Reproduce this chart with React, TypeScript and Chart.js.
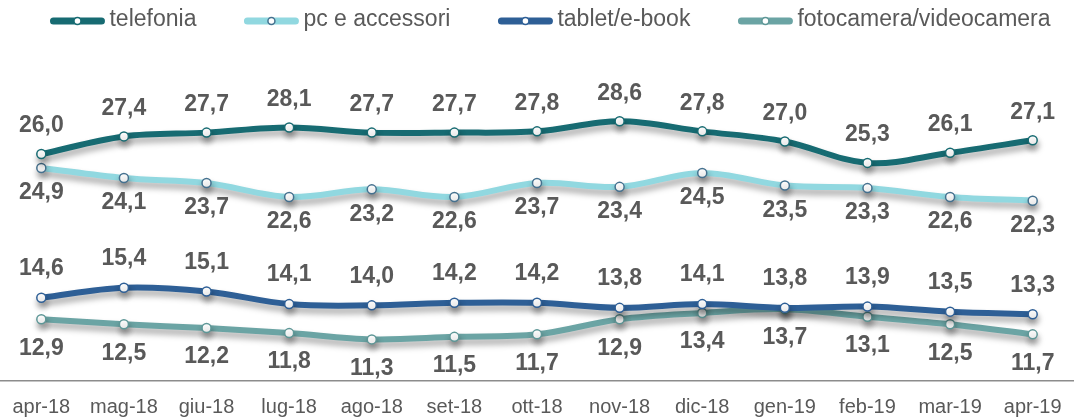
import React, { useEffect, useRef } from "react";
import { Chart, registerables } from "chart.js";

Chart.register(...registerables);

const categories = [
  "apr-18", "mag-18", "giu-18", "lug-18", "ago-18", "set-18", "ott-18",
  "nov-18", "dic-18", "gen-19", "feb-19", "mar-19", "apr-19",
];

const seriesNames = ["telefonia", "pc e accessori", "tablet/e-book", "fotocamera/videocamera"];

const telefonia = [26.0, 27.4, 27.7, 28.1, 27.7, 27.7, 27.8, 28.6, 27.8, 27.0, 25.3, 26.1, 27.1];
const pcAccessori = [24.9, 24.1, 23.7, 22.6, 23.2, 22.6, 23.7, 23.4, 24.5, 23.5, 23.3, 22.6, 22.3];
const tabletEbook = [14.6, 15.4, 15.1, 14.1, 14.0, 14.2, 14.2, 13.8, 14.1, 13.8, 13.9, 13.5, 13.3];
const fotocamera = [12.9, 12.5, 12.2, 11.8, 11.3, 11.5, 11.7, 12.9, 13.4, 13.7, 13.1, 12.5, 11.7];

const lineColors = ["#176B72", "#91D8E0", "#2E5F96", "#6BA4A4"];
const markerBorders = ["#176B72", "#45718F", "#2E5F96", "#5E9797"];
const labelOffsets = [-28, 25, -29, 29];

const LABEL_COLOR = "#595959";
const FONT = "'Liberation Sans', Arial, sans-serif";

const shadowPlugin = {
  id: "lineShadow",
  beforeDatasetDraw(chart: any) {
    const ctx = chart.ctx;
    ctx.save();
    ctx.shadowColor = "rgba(0,0,0,0.35)";
    ctx.shadowBlur = 6;
    ctx.shadowOffsetX = 1;
    ctx.shadowOffsetY = 5;
  },
  afterDatasetDraw(chart: any) {
    chart.ctx.restore();
  },
};

const labelsPlugin = {
  id: "valueLabels",
  afterDatasetsDraw(chart: any) {
    const ctx = chart.ctx;
    ctx.save();
    ctx.font = `bold 23px ${FONT}`;
    ctx.fillStyle = LABEL_COLOR;
    ctx.textAlign = "center";
    ctx.textBaseline = "middle";
    chart.data.datasets.forEach((ds: any, i: number) => {
      const meta = chart.getDatasetMeta(i);
      meta.data.forEach((pt: any, j: number) => {
        const v = ds.data[j];
        const txt = v.toFixed(1).replace(".", ",");
        ctx.fillText(txt, pt.x, pt.y + labelOffsets[i]);
      });
    });
    ctx.restore();
  },
};

const legendPlugin = {
  id: "customLegend",
  afterDraw(chart: any) {
    const ctx = chart.ctx;
    ctx.save();
    ctx.font = `23px ${FONT}`;
    const iconW = 56;
    const iconGap = 4;
    const itemGap = 47;
    const widths = seriesNames.map((n) => iconW + iconGap + ctx.measureText(n).width);
    const total = widths.reduce((a, b) => a + b, 0) + itemGap * (seriesNames.length - 1);
    let x = chart.width / 2 + 13 - total / 2;
    const cy = 20;
    seriesNames.forEach((name, i) => {
      ctx.strokeStyle = lineColors[i];
      ctx.lineWidth = 7;
      ctx.lineCap = "round";
      ctx.beginPath();
      ctx.moveTo(x + 4, cy + 1);
      ctx.lineTo(x + iconW - 4, cy + 1);
      ctx.stroke();
      ctx.fillStyle = "#ffffff";
      ctx.strokeStyle = markerBorders[i];
      ctx.lineWidth = 1.5;
      ctx.beginPath();
      ctx.arc(x + iconW / 2, cy + 1, 3.5, 0, Math.PI * 2);
      ctx.fill();
      ctx.stroke();
      ctx.fillStyle = LABEL_COLOR;
      ctx.textAlign = "left";
      ctx.textBaseline = "middle";
      ctx.fillText(name, x + iconW + iconGap, cy);
      x += widths[i] + itemGap;
    });
    ctx.restore();
  },
};

export default function App() {
  const canvasRef = useRef<HTMLCanvasElement | null>(null);

  useEffect(() => {
    document.body.style.margin = "0";
    const canvas = canvasRef.current;
    if (!canvas) return;
    const seriesData = [telefonia, pcAccessori, tabletEbook, fotocamera];
    const chart = new Chart(canvas, {
      type: "line",
      data: {
        labels: categories,
        datasets: seriesData.map((d, i) => ({
          label: seriesNames[i],
          data: d,
          borderColor: lineColors[i],
          borderWidth: 6,
          backgroundColor: "#ffffff",
          pointBackgroundColor: "#ffffff",
          pointBorderColor: markerBorders[i],
          pointBorderWidth: 1.5,
          pointRadius: 4.5,
          pointHoverRadius: 4.5,
          tension: 0.35,
          fill: false,
          clip: false,
        })),
      },
      options: {
        animation: false,
        responsive: false,
        maintainAspectRatio: false,
        events: [],
        layout: { autoPadding: false, padding: { top: 45, left: -1, right: -4, bottom: 0 } },
        plugins: {
          legend: { display: false },
          tooltip: { enabled: false },
        },
        scales: {
          x: {
            offset: true,
            grid: { display: true, drawOnChartArea: false, drawTicks: false },
            border: { display: true, color: "#8C8C8C", width: 1.5 },
            ticks: {
              color: LABEL_COLOR,
              font: { family: FONT, size: 20 },
              padding: 14,
              maxRotation: 0,
              autoSkip: false,
            },
            afterFit: (scale: any) => {
              scale.height = 39;
              scale.paddingLeft = 0;
              scale.paddingRight = -4;
            },
          },
          y: {
            display: false,
            min: 8,
            max: 34.65,
          },
        },
      },
      plugins: [shadowPlugin, labelsPlugin, legendPlugin],
    });
    return () => chart.destroy();
  }, []);

  return (
    <div style={{ width: 1074, height: 420 }}>
      <canvas ref={canvasRef} width={1074} height={420} style={{ display: "block" }} />
    </div>
  );
}
